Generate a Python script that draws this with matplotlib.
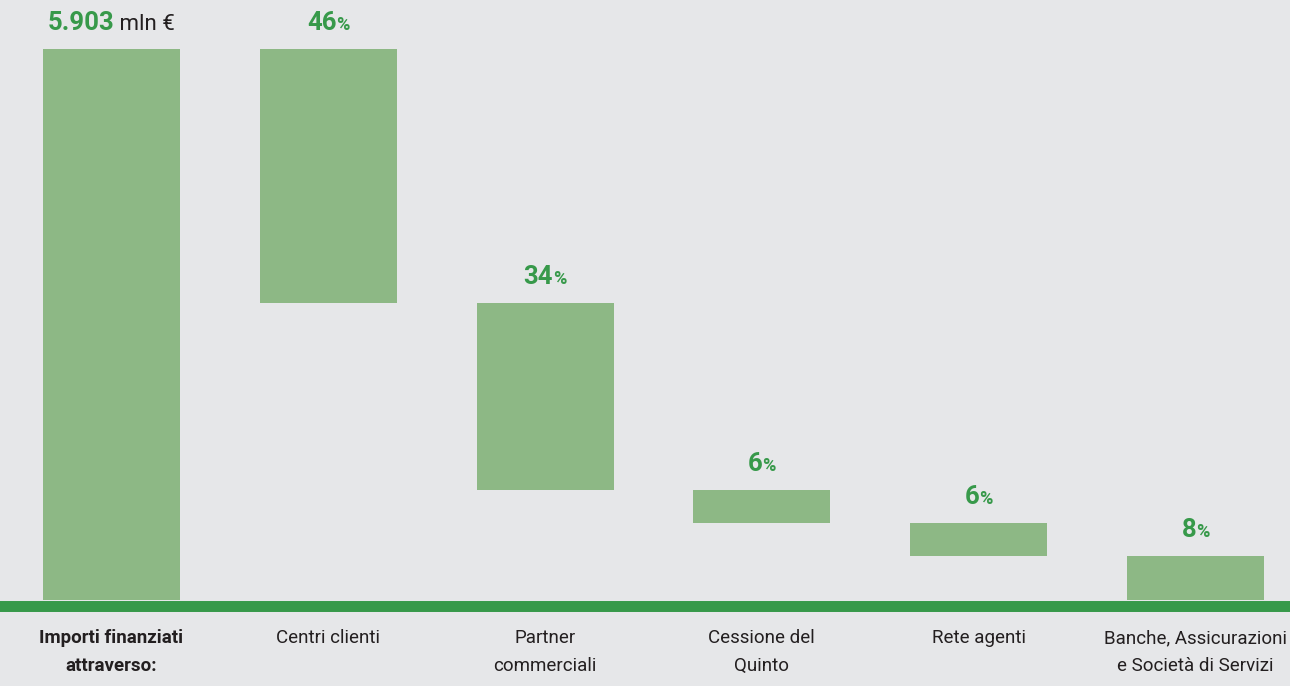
import matplotlib
matplotlib.use('Agg')
import matplotlib.pyplot as plt

categories = ['Importi finanziati\nattraverso:', 'Centri clienti', 'Partner\ncommerciali',
              'Cessione del\nQuinto', 'Rete agenti', 'Banche, Assicurazioni\ne Società di Servizi']
shares = [46, 34, 6, 6, 8]
total_label = '5.903'
total_unit = ' mln €'

BG = '#e6e7e9'
BAR = '#8db885'
GREEN = '#37994a'
DARK = '#231f20'

plt.rcParams['font.family'] = ['Roboto', 'DejaVu Sans']

fig = plt.figure(figsize=(12.9, 6.86), dpi=100)
fig.patch.set_facecolor(BG)
ax = fig.add_axes([0, 0, 1, 1])
ax.set_facecolor(BG)
ax.set_xlim(-0.514, 5.436)
ax.set_ylim(-15.6, 108.9)
ax.axis('off')

xs = list(range(len(categories)))
width = 0.632

# waterfall: total bar then descending pieces
bottoms = []
top = 100
for s in shares:
    bottoms.append(top - s)
    top -= s

ax.bar(xs[0], 100, width=width, bottom=0, color=BAR, zorder=2)
ax.bar(xs[1:], shares, width=width, bottom=bottoms, color=BAR, zorder=2)
ax.axhline(-1.0, color=GREEN, linewidth=7.9, zorder=3)

renderer = fig.canvas.get_renderer()


def group_text(x, y, parts):
    # parts: list of (text, size, weight, color); drawn centered as one line
    texts = []
    for t, size, weight, color in parts:
        texts.append(ax.text(x, y, t, fontsize=size, fontweight=weight, color=color,
                             ha='left', va='baseline'))
    widths = [t.get_window_extent(renderer).width for t in texts]
    total = sum(widths)
    x_px = ax.transData.transform((x, y))[0] - total / 2
    inv = ax.transData.inverted()
    for t, w in zip(texts, widths):
        t.set_x(inv.transform((x_px, 0))[0])
        x_px += w


px = 5.51  # pixels per percentage unit
group_text(xs[0], 100 + 19 / px, [(total_label, 18.5, 'bold', GREEN), (total_unit, 16, 'normal', DARK)])
for i, s in enumerate(shares):
    yt = bottoms[i] + s
    group_text(xs[i + 1], yt + 19 / px, [(str(s), 18.5, 'bold', GREEN), ('%', 13, 'bold', GREEN)])

for i, c in enumerate(categories):
    ax.text(xs[i], -5.3, c, ha='center', va='top', fontsize=13.5, color=DARK,
            fontweight='bold' if i == 0 else 'normal', linespacing=1.7)

plt.savefig('out.png', dpi=100, facecolor=BG)
